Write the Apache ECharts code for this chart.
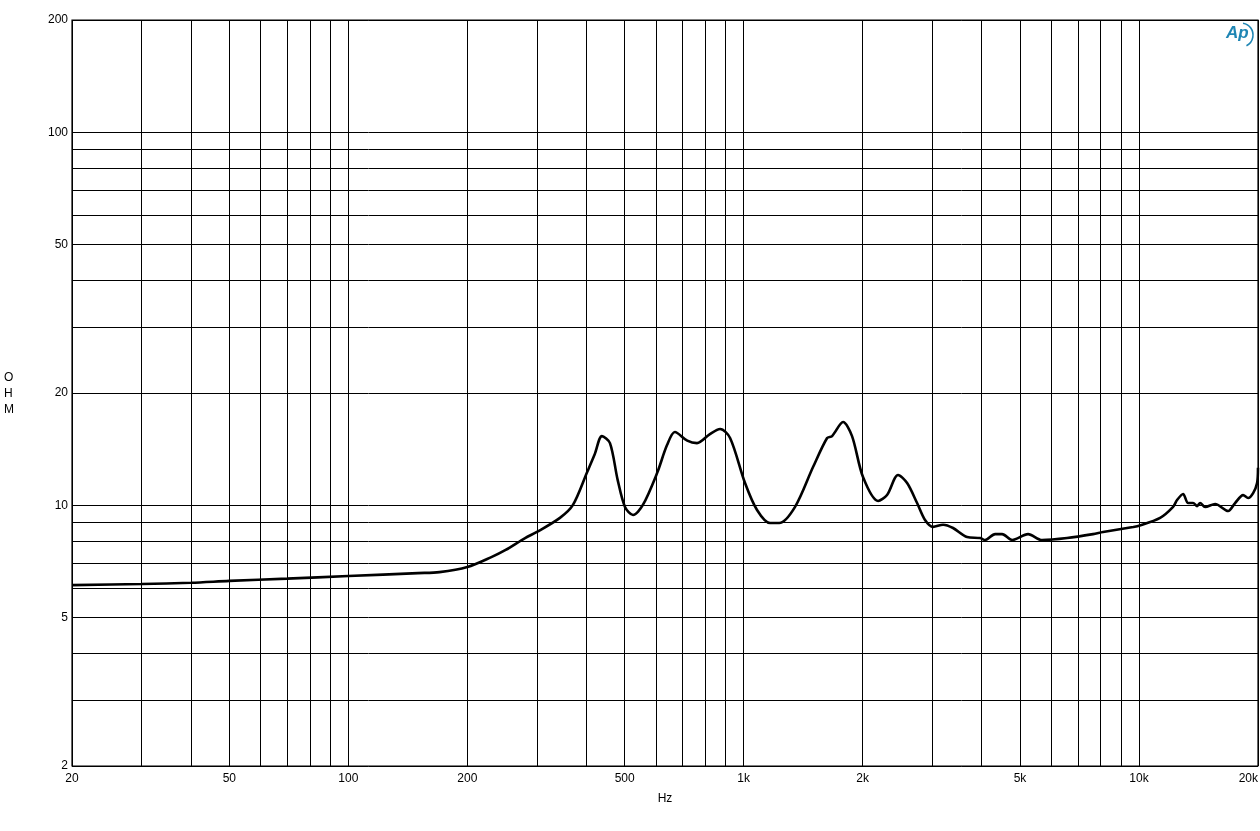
<!DOCTYPE html>
<html>
<head>
<meta charset="utf-8">
<script src="https://cdn.jsdelivr.net/npm/echarts@6/dist/echarts.min.js"></script>
<style>html,body{margin:0;padding:0;background:#fff}#c{width:1260px;height:831px}</style>
</head>
<body>
<div id="c"></div>
<script>
const freqHz = [20,30,40,50,70,100,150,170,200,230,250,280,300,343,370,402,420,438,459,480,501,525,556,604,640,670,720,762,820,872,924,1008,1081,1166,1230,1349,1498,1626,1674,1784,1880,2004,2188,2305,2458,2591,2746,2876,3014,3195,3386,3675,3964,4080,4326,4506,4776,5240,5686,6578,7652,8112,9662,10000,11310,12196,12484,12929,13312,13704,14030,14276,14698,15578,16808,17500,18342,18884,19440,19894,20000];
const impedanceOhm = [6.11,6.15,6.2,6.27,6.36,6.46,6.58,6.62,6.83,7.26,7.59,8.17,8.48,9.25,10.02,12.28,13.7,15.33,14.68,11.7,9.9,9.42,10.02,12.2,14.5,15.72,14.9,14.68,15.5,16.01,15.15,11.47,9.71,8.96,8.96,9.9,12.66,15.15,15.33,16.72,15.33,11.9,10.27,10.65,12.06,11.47,10.14,9.13,8.75,8.87,8.69,8.22,8.17,8.07,8.37,8.37,8.07,8.37,8.07,8.17,8.37,8.48,8.75,8.81,9.25,9.9,10.33,10.72,10.14,10.14,9.95,10.14,9.9,10.08,9.65,10.14,10.65,10.46,10.78,11.47,12.6];
const xGridValues = [20,30,40,50,60,70,80,90,100,200,300,400,500,600,700,800,900,1000,2000,3000,4000,5000,6000,7000,8000,9000,10000,20000];
const yGridValues = [2,3,4,5,6,7,8,9,10,20,30,40,50,60,70,80,90,100,200];
const xTickLabels = [20,50,100,200,500,1000,2000,5000,10000,20000];
const yTickLabels = [2,5,10,20,50,100,200];

const fmtHz = v => v >= 1000 ? (v/1000) + 'k' : String(v);
const font = 'Arial, "Liberation Sans", sans-serif';

const chart = echarts.init(document.getElementById('c'), null, {renderer: 'canvas'});
chart.setOption({
  animation: false,
  backgroundColor: '#fff',
  grid: {left: 72, right: 2, top: 20, bottom: 65, show: true, borderColor: '#000', borderWidth: 1.2, containLabel: false, outerBoundsMode: 'none'},
  xAxis: {
    type: 'log', logBase: 10, min: 20, max: 20000,
    name: 'Hz', nameLocation: 'middle', nameGap: 27,
    nameTextStyle: {color: '#000', fontFamily: font, fontSize: 12},
    axisLine: {show: false},
    axisTick: {show: false, customValues: xGridValues},
    minorTick: {show: false}, minorSplitLine: {show: false},
    splitLine: {show: true, lineStyle: {color: '#000', width: 1}},
    axisLabel: {customValues: xTickLabels, formatter: v => fmtHz(v), color: '#000', fontFamily: font, fontSize: 12, margin: 7, showMinLabel: true, showMaxLabel: true, hideOverlap: false, alignMaxLabel: 'right'}
  },
  yAxis: {
    type: 'log', logBase: 10, min: 2, max: 200,
    axisLine: {show: false},
    axisTick: {show: false, customValues: yGridValues},
    minorTick: {show: false}, minorSplitLine: {show: false},
    splitLine: {show: true, lineStyle: {color: '#000', width: 1}},
    axisLabel: {customValues: yTickLabels, formatter: v => String(v), color: '#000', fontFamily: font, fontSize: 12, margin: 4, showMinLabel: true, showMaxLabel: true, hideOverlap: false}
  },
  graphic: [
    {type: 'text', left: 4, top: 370, style: {text: 'O\nH\nM', fill: '#000', font: '12px ' + font, lineHeight: 16, align: 'center'}},
    {type: 'text', left: 1226, top: 25, style: {text: 'Ap', fill: '#1f86b4', font: 'italic bold 17px ' + font}},
    {type: 'arc', shape: {cx: 1241, cy: 35, r: 12, startAngle: -1.4, endAngle: 1.1}, style: {stroke: '#1f86b4', lineWidth: 1.6, fill: null}}
  ],
  series: [{
    type: 'line',
    data: freqHz.map((f, i) => [f, impedanceOhm[i]]),
    showSymbol: false,
    smooth: 0.3,
    lineStyle: {color: '#000', width: 2.6},
    clip: true
  }]
});
</script>
</body>
</html>
